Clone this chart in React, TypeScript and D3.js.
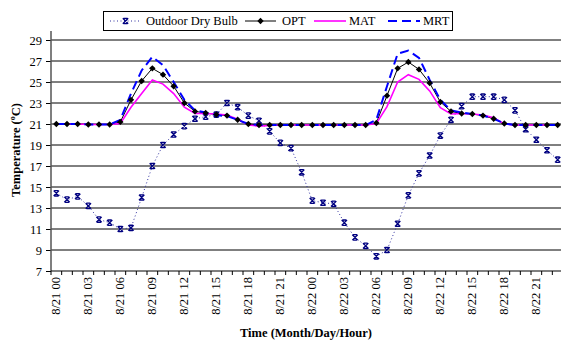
import React, { useEffect, useRef } from "react";
import * as d3 from "d3";

// categories: hourly, two days
const days = ["8/21", "8/22"];
const hours = ["00", "01", "02", "03", "04", "05", "06", "07", "08", "09", "10", "11",
  "12", "13", "14", "15", "16", "17", "18", "19", "20", "21", "22", "23"];
const categories = days.flatMap((d) => hours.map((h) => d + " " + h));

const yTicks = [7, 9, 11, 13, 15, 17, 19, 21, 23, 25, 27, 29];

const outdoor = [14.4, 13.8, 14.1, 13.2, 11.9, 11.6, 11.0, 11.1, 14.0, 17.0, 19.0, 20.0,
  20.8, 21.5, 21.7, 21.9, 23.0, 22.6, 21.8, 21.3, 20.3, 19.2, 18.7, 16.4,
  13.7, 13.5, 13.4, 11.6, 10.2, 9.4, 8.4, 9.0, 11.5, 14.2, 16.3, 18.0,
  19.9, 21.4, 22.7, 23.6, 23.6, 23.6, 23.3, 22.3, 20.5, 19.5, 18.5, 17.6];

const opt = [21.0, 21.0, 21.0, 20.95, 20.95, 20.95, 21.2, 23.3, 25.1, 26.3, 25.7, 24.6,
  23.0, 22.2, 22.05, 21.9, 21.8, 21.4, 21.0, 20.9, 20.9, 20.9, 20.9, 20.9,
  20.9, 20.9, 20.9, 20.9, 20.9, 20.9, 21.1, 23.7, 26.3, 26.9, 26.2, 24.9,
  23.1, 22.2, 22.0, 21.95, 21.8, 21.5, 21.05, 20.9, 20.9, 20.9, 20.9, 20.9];

const mat = [21.0, 21.0, 21.0, 20.95, 20.95, 20.95, 21.05, 22.6, 23.9, 25.2, 24.8, 23.9,
  22.6, 22.0, 22.0, 21.95, 21.85, 21.45, 20.9, 20.8, 20.85, 20.9, 20.9, 20.9,
  20.9, 20.9, 20.9, 20.9, 20.9, 20.9, 21.05, 22.65, 25.0, 25.7, 25.25, 24.15,
  22.55, 21.95, 22.0, 21.95, 21.85, 21.6, 21.0, 20.9, 20.9, 20.9, 20.9, 20.9];

const mrt = [21.0, 21.0, 21.0, 20.95, 20.95, 20.95, 21.4, 23.9, 26.1, 27.4, 26.6, 25.0,
  23.3, 22.3, 22.1, 21.85, 21.75, 21.4, 21.0, 20.9, 20.9, 20.9, 20.9, 20.9,
  20.9, 20.9, 20.9, 20.9, 20.9, 20.9, 21.4, 24.6, 27.7, 28.0, 27.3, 25.2,
  23.3, 22.3, 22.1, 21.95, 21.8, 21.5, 21.05, 20.9, 20.9, 20.9, 20.9, 20.9];

const W = 561, H = 343;
const FONT = "Liberation Serif";

function starMarker(sel: any, cx: number, cy: number) {
  const s = 2.7;
  const g = sel.append("g").attr("stroke", "#000080").attr("stroke-width", 1.3).attr("fill", "none");
  g.append("path").attr("d",
    `M${cx - s},${cy - s}L${cx + s},${cy + s}M${cx + s},${cy - s}L${cx - s},${cy + s}` +
    `M${cx - s + 0.8},${cy - s}L${cx + s - 0.8},${cy - s}M${cx - s + 0.8},${cy + s}L${cx + s - 0.8},${cy + s}`);
}

function diamond(sel: any, cx: number, cy: number) {
  const s = 3.2;
  sel.append("path")
    .attr("d", `M${cx},${cy - s}L${cx + s},${cy}L${cx},${cy + s}L${cx - s},${cy}Z`)
    .attr("fill", "#000");
}

export default function App() {
  const ref = useRef<SVGSVGElement>(null);

  useEffect(() => {
    const svg = d3.select(ref.current);
    svg.selectAll("*").remove();

    const x = d3.scaleBand<string>().domain(categories).range([51, 563]).padding(0);
    const cx = (c: string) => (x(c) as number) + x.bandwidth() / 2;
    const y = d3.scaleLinear().domain([7, 29]).range([271, 40]);

    // gridlines
    svg.append("g").selectAll("line")
      .data(yTicks.filter((t) => t > 7))
      .enter().append("line")
      .attr("x1", 51).attr("x2", W)
      .attr("y1", (d) => y(d)).attr("y2", (d) => y(d))
      .attr("stroke", "#000").attr("stroke-width", 1);

    // y axis
    const yAxis = svg.append("g")
      .attr("transform", "translate(51,0)")
      .call(d3.axisLeft(y).tickValues(yTicks).tickSize(5).tickPadding(4).tickFormat(d3.format("d")));
    yAxis.select(".domain").remove();
    yAxis.selectAll(".tick line").attr("stroke", "#000");
    yAxis.selectAll("text").attr("font-family", FONT).attr("font-size", 12.5).attr("fill", "#000");
    svg.append("line").attr("x1", 51).attr("x2", 51).attr("y1", 31).attr("y2", 271)
      .attr("stroke", "#555").attr("stroke-width", 1.5);

    // x axis
    svg.append("line").attr("x1", 51).attr("x2", W).attr("y1", 271).attr("y2", 271)
      .attr("stroke", "#000").attr("stroke-width", 1.2);
    const bounds = categories.map((c) => x(c) as number).concat([563]);
    svg.append("g").selectAll("line").data(bounds).enter().append("line")
      .attr("x1", (d) => d).attr("x2", (d) => d).attr("y1", 271).attr("y2", 275)
      .attr("stroke", "#000");
    svg.append("g").selectAll("text")
      .data(categories.filter((_, i) => i % 3 === 0))
      .enter().append("text")
      .attr("transform", (d) => `translate(${cx(d) + 4},277) rotate(-90)`)
      .attr("text-anchor", "end")
      .attr("font-family", FONT).attr("font-size", 12.5).attr("fill", "#000")
      .text((d) => d);

    // titles
    svg.append("text")
      .attr("x", 306).attr("y", 337).attr("text-anchor", "middle")
      .attr("font-family", FONT).attr("font-size", 12.5).attr("font-weight", "bold")
      .text("Time (Month/Day/Hour)");
    const yt = svg.append("text")
      .attr("transform", "translate(20,150) rotate(-90)").attr("text-anchor", "middle")
      .attr("font-family", FONT).attr("font-size", 12.5).attr("font-weight", "bold");
    yt.append("tspan").text("Temperature (");
    yt.append("tspan").attr("dy", -5).attr("font-size", 8).text("o");
    yt.append("tspan").attr("dy", 5).text("C)");

    const line = (vals: number[]) => d3.line<number>()
      .x((_, i) => cx(categories[i]))
      .y((d) => y(d))(vals);

    // outdoor dry bulb
    svg.append("path").attr("d", line(outdoor) as string)
      .attr("fill", "none").attr("stroke", "#3030a0").attr("stroke-width", 1)
      .attr("stroke-dasharray", "1,2.5");
    const om = svg.append("g");
    outdoor.forEach((v, i) => starMarker(om, cx(categories[i]), y(v)));

    // OPT line
    svg.append("path").attr("d", line(opt) as string)
      .attr("fill", "none").attr("stroke", "#000").attr("stroke-width", 1);
    // MAT
    svg.append("path").attr("d", line(mat) as string)
      .attr("fill", "none").attr("stroke", "#ff00ff").attr("stroke-width", 1.6);
    // MRT
    svg.append("path").attr("d", line(mrt) as string)
      .attr("fill", "none").attr("stroke", "#0000ff").attr("stroke-width", 2)
      .attr("stroke-dasharray", "9,5");
    // OPT markers
    const dm = svg.append("g");
    opt.forEach((v, i) => diamond(dm, cx(categories[i]), y(v)));

    // legend
    const lg = svg.append("g");
    lg.append("rect").attr("x", 103.5).attr("y", 11.5).attr("width", 349).attr("height", 19)
      .attr("fill", "#fff").attr("stroke", "#000");
    const ly = 21;
    lg.append("line").attr("x1", 110).attr("x2", 141).attr("y1", ly).attr("y2", ly)
      .attr("stroke", "#3030a0").attr("stroke-dasharray", "1,2.5");
    starMarker(lg, 125.5, ly);
    lg.append("line").attr("x1", 245).attr("x2", 276).attr("y1", ly).attr("y2", ly).attr("stroke", "#000");
    diamond(lg, 260.5, ly);
    lg.append("line").attr("x1", 314).attr("x2", 346).attr("y1", ly).attr("y2", ly)
      .attr("stroke", "#ff00ff").attr("stroke-width", 1.6);
    lg.append("line").attr("x1", 388).attr("x2", 420).attr("y1", ly).attr("y2", ly)
      .attr("stroke", "#0000ff").attr("stroke-width", 2).attr("stroke-dasharray", "9,5");
    const items = [["Outdoor Dry Bulb", 146], ["OPT", 282], ["MAT", 349], ["MRT", 423]];
    lg.selectAll("text.lt").data(items).enter().append("text")
      .attr("x", (d) => d[1] as number).attr("y", 25)
      .attr("font-family", FONT).attr("font-size", 12.5).attr("fill", "#000")
      .text((d) => d[0] as string);
  }, []);

  return (
    <svg ref={ref} width={W} height={H}
      style={{ position: "absolute", left: 0, top: 0, background: "#fff" }} />
  );
}
